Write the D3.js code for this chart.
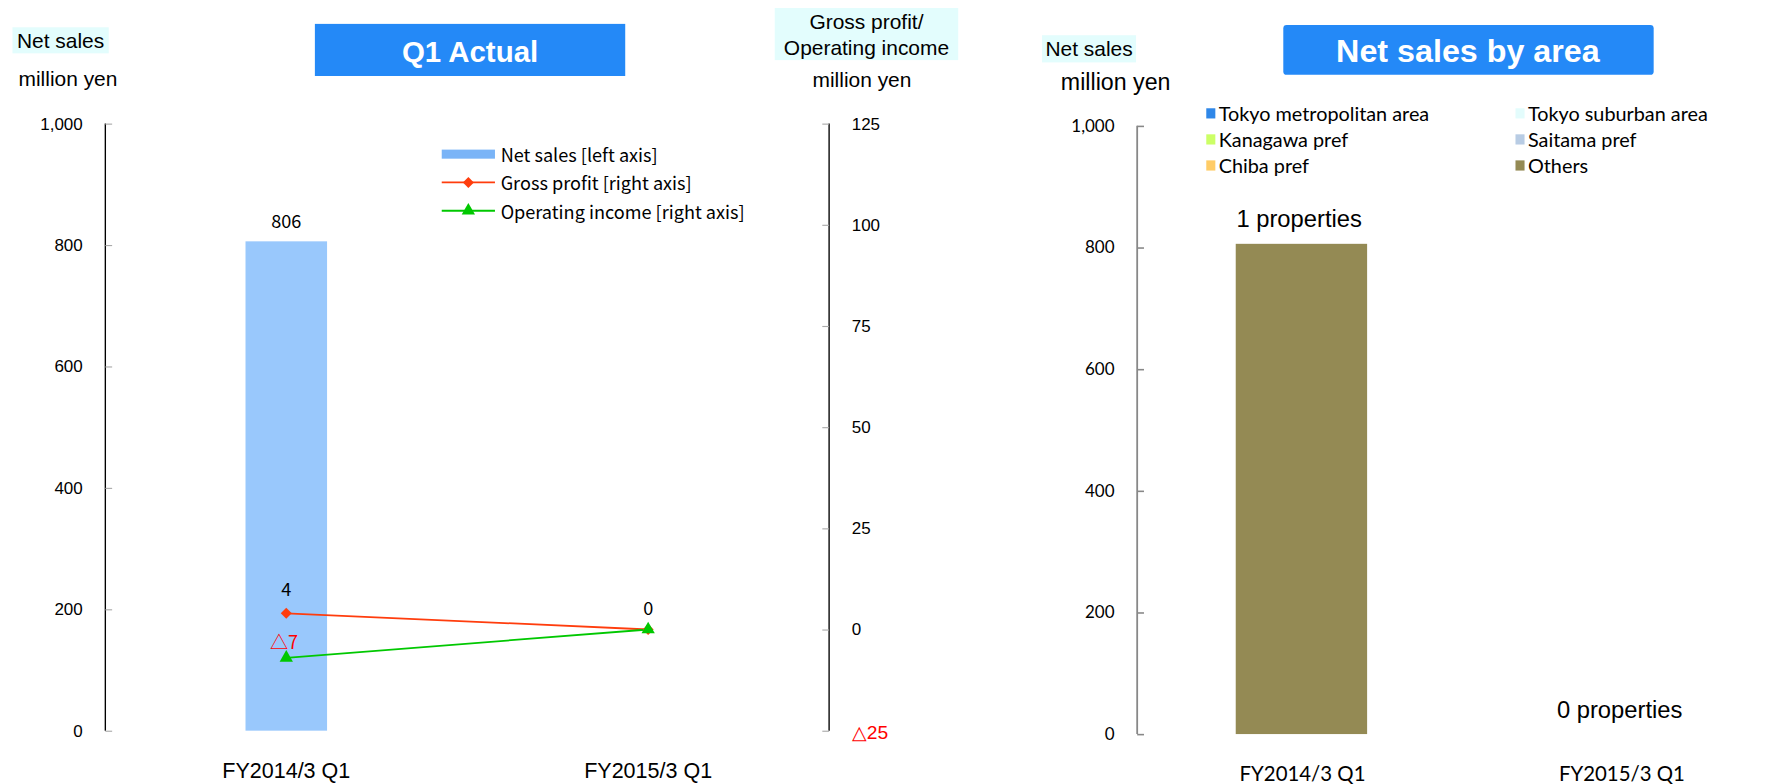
<!DOCTYPE html>
<html>
<head>
<meta charset="utf-8">
<script src="https://cdn.jsdelivr.net/npm/d3@7"></script>
<style>
  body { margin: 0; background: #fff; }
  svg { display: block; }
</style>
</head>
<body>
<div id="chart"></div>
<script>
// ---- data ----
const categories = ["FY2014/3 Q1", "FY2015/3 Q1"]
const netSales = [806, 0]
const grossProfit = [4, 0]
const operatingIncome = [-7, 0]
const leftTicks = [0, 200, 400, 600, 800, 1000]
const rightTicks = [-25, 0, 25, 50, 75, 100, 125]

const areas = ["Tokyo metropolitan area", "Tokyo suburban area", "Kanagawa pref", "Saitama pref", "Chiba pref", "Others"]
const areaColors = ["#2f87e8", "#e3fcfc", "#ccff66", "#b8cce4", "#ffcc66", "#948a54"]
const areaSales = [
  { category: "FY2014/3 Q1", "Tokyo metropolitan area": 0, "Tokyo suburban area": 0, "Kanagawa pref": 0, "Saitama pref": 0, "Chiba pref": 0, "Others": 806 },
  { category: "FY2015/3 Q1", "Tokyo metropolitan area": 0, "Tokyo suburban area": 0, "Kanagawa pref": 0, "Saitama pref": 0, "Chiba pref": 0, "Others": 0 }
]
const properties = [1, 0]

const W = 1568, H = 692
const ARIAL = "'Liberation Sans', Arial, sans-serif"
const GOTHIC = "'Noto Sans CJK JP', sans-serif"
const CALIBRI = "Lato, 'Open Sans', sans-serif"

const fmt = d3.format(",")
const svg = d3.select("#chart").append("svg")
  .attr("width", 1776).attr("height", 784)
  .attr("viewBox", `0 0 ${W} ${H}`)

// ================= left chart: Q1 Actual =================
const L = { left: 93, right: 732, top: 109, bottom: 645 }
const g1 = svg.append("g")

const x1 = d3.scaleBand().domain(categories).range([L.left, L.right]).padding(0)
const y1 = d3.scaleLinear().domain([0, 1000]).range([L.bottom, L.top])
const y2 = d3.scaleLinear().domain([-25, 125]).range([L.bottom, L.top])

// headers
const hdr = (g, x, y, w, h, lines, ly, size) => {
  g.append("rect").attr("x", x).attr("y", y).attr("width", w).attr("height", h).attr("fill", "#e3fdfd")
  lines.forEach((t, i) => g.append("text")
    .attr("x", x + w / 2).attr("y", ly[i]).attr("text-anchor", "middle")
    .attr("dominant-baseline", "central")
    .attr("font-family", ARIAL).attr("font-size", size).attr("fill", "#000").text(t))
}
const unit = (g, x, y, size) => g.append("text").attr("x", x).attr("y", y).attr("text-anchor", "middle")
  .attr("dominant-baseline", "central").attr("font-family", ARIAL).attr("font-size", size).text("million yen")

hdr(g1, 11, 24, 85, 23, ["Net sales"], [36], 18.5)
unit(g1, 60, 69, 18.5)
hdr(g1, 684, 7, 162, 46, ["Gross profit/", "Operating income"], [19, 42], 18.5)
unit(g1, 761, 70, 18.5)

// title box
g1.append("rect").attr("x", 278).attr("y", 21).attr("width", 274).attr("height", 46).attr("fill", "#2489f7")
g1.append("text").attr("x", 415).attr("y", 45).attr("text-anchor", "middle").attr("dominant-baseline", "central")
  .attr("font-family", ARIAL).attr("font-weight", "bold").attr("font-size", 26).attr("fill", "#fff").text("Q1 Actual")

// bars
const barW1 = 72
g1.selectAll("rect.bar").data(netSales).enter().append("rect")
  .attr("class", "bar")
  .attr("x", (d, i) => x1(categories[i]) + x1.bandwidth() / 2 - barW1 / 2)
  .attr("y", d => y1(d))
  .attr("width", barW1)
  .attr("height", d => y1(0) - y1(d))
  .attr("fill", "#99c8fc")
g1.append("text").attr("x", x1(categories[0]) + x1.bandwidth() / 2).attr("y", y1(netSales[0]) - 19)
  .attr("text-anchor", "middle").attr("dominant-baseline", "central")
  .attr("font-family", GOTHIC).attr("font-size", 16).text(fmt(netSales[0]))

// axes
const leftAxis = d3.axisLeft(y1).tickValues(leftTicks).tickSize(-6).tickPadding(20).tickFormat(fmt)
const ax1 = g1.append("g").attr("transform", `translate(${L.left},0)`).call(leftAxis)
ax1.select(".domain").attr("stroke", "#000").attr("stroke-width", 1.2).attr("d", `M0,${L.top}V${L.bottom}`)
ax1.selectAll(".tick line").attr("stroke", "#aaa")
ax1.selectAll(".tick text").attr("font-family", ARIAL).attr("font-size", 15).attr("fill", "#000")

const rightAxis = d3.axisRight(y2).tickValues(rightTicks).tickSize(-6).tickPadding(20)
  .tickFormat(d => d < 0 ? "△" + Math.abs(d) : d)
const ax2 = g1.append("g").attr("transform", `translate(${L.right},0)`).call(rightAxis)
ax2.select(".domain").attr("stroke", "#000").attr("stroke-width", 1.2).attr("d", `M0,${L.top}V${L.bottom}`)
ax2.selectAll(".tick line").attr("stroke", "#aaa")
ax2.selectAll(".tick text").attr("font-family", ARIAL).attr("font-size", 15)
  .attr("fill", d => d < 0 ? "#ff0000" : "#000")
  .filter(d => d < 0).attr("font-size", 17).attr("dy", "0.4em")

// category labels
categories.forEach(c => g1.append("text")
  .attr("x", x1(c) + x1.bandwidth() / 2).attr("y", 681).attr("text-anchor", "middle")
  .attr("dominant-baseline", "central").attr("font-family", ARIAL).attr("font-size", 19).text(c))

// lines
const cx = (d, i) => x1(categories[i]) + x1.bandwidth() / 2
const line = d3.line().x(cx).y(d => y2(d))
g1.append("path").datum(grossProfit).attr("d", line).attr("fill", "none").attr("stroke", "#ff3d0d").attr("stroke-width", 1.6)
g1.append("path").datum(operatingIncome).attr("d", line).attr("fill", "none").attr("stroke", "#00c800").attr("stroke-width", 1.6)
const diamond = d3.symbol().type(d3.symbolDiamond2).size(60)
const tri = d3.symbol().type(d3.symbolTriangle).size(60)
g1.selectAll("path.gp").data(grossProfit).enter().append("path").attr("class", "gp")
  .attr("d", diamond).attr("transform", (d, i) => `translate(${cx(d, i)},${y2(d)})`).attr("fill", "#ff3d0d")
g1.selectAll("path.oi").data(operatingIncome).enter().append("path").attr("class", "oi")
  .attr("d", tri).attr("transform", (d, i) => `translate(${cx(d, i)},${y2(d)})`).attr("fill", "#00c800")

// point labels
const ptLabel = (x, y, t, color) => g1.append("text").attr("x", x).attr("y", y)
  .attr("text-anchor", "middle").attr("dominant-baseline", "central")
  .attr("font-family", GOTHIC).attr("font-size", 16).attr("fill", color).text(t)
ptLabel(cx(grossProfit[0], 0), y2(grossProfit[0]) - 22, grossProfit[0], "#000")
ptLabel(cx(operatingIncome[0], 0) - 2, y2(operatingIncome[0]) - 15, "△" + Math.abs(operatingIncome[0]), "#ff0000")
ptLabel(cx(grossProfit[1], 1), y2(grossProfit[1]) - 20, grossProfit[1], "#000")

// legend
const lg = g1.append("g").attr("transform", "translate(390,136)")
lg.append("rect").attr("x", 0).attr("y", -4).attr("width", 47).attr("height", 8).attr("fill", "#7ab4f7")
lg.append("line").attr("x1", 0).attr("x2", 47).attr("y1", 25).attr("y2", 25).attr("stroke", "#ff3d0d").attr("stroke-width", 1.6)
lg.append("path").attr("d", diamond).attr("transform", "translate(23.5,25)").attr("fill", "#ff3d0d")
lg.append("line").attr("x1", 0).attr("x2", 47).attr("y1", 50).attr("y2", 50).attr("stroke", "#00c800").attr("stroke-width", 1.6)
lg.append("path").attr("d", tri).attr("transform", "translate(23.5,50)").attr("fill", "#00c800")
const legendText = ["Net sales [left axis]", "Gross profit [right axis]", "Operating income [right axis]"]
legendText.forEach((t, i) => lg.append("text").attr("x", 52).attr("y", [0, 25, 50][i])
  .attr("dominant-baseline", "central").attr("font-family", GOTHIC).attr("font-size", 16).text(t))

// ================= right chart: Net sales by area =================
const R = { left: 1004, right: 1568, top: 111, bottom: 648 }
const g2 = svg.append("g")

hdr(g2, 920, 31, 83, 24, ["Net sales"], [43], 18.5)
unit(g2, 985, 72, 20.5)

g2.append("rect").attr("x", 1133).attr("y", 22).attr("width", 327).attr("height", 44).attr("rx", 3).attr("fill", "#2489f7")
g2.append("text").attr("x", 1296).attr("y", 45).attr("text-anchor", "middle").attr("dominant-baseline", "central")
  .attr("font-family", ARIAL).attr("font-weight", "bold").attr("font-size", 28.5).attr("fill", "#fff").text("Net sales by area")

const x3 = d3.scaleBand().domain(categories).range([R.left, R.right]).padding(0)
const y3 = d3.scaleLinear().domain([0, 1000]).range([R.bottom, R.top])
const stack = d3.stack().keys(areas)(areaSales)
const barW3 = 116

g2.selectAll("g.layer").data(stack).enter().append("g").attr("class", "layer")
  .attr("fill", (d, i) => areaColors[i])
  .selectAll("rect").data(d => d).enter().append("rect")
  .attr("x", d => x3(d.data.category) + x3.bandwidth() / 2 - barW3 / 2 + 4)
  .attr("y", d => y3(d[1]))
  .attr("width", barW3)
  .attr("height", d => y3(d[0]) - y3(d[1]))

const ax3 = g2.append("g").attr("transform", `translate(${R.left},0)`)
  .call(d3.axisLeft(y3).tickValues(leftTicks).tickSize(-6).tickPadding(20).tickFormat(fmt))
ax3.select(".domain").attr("stroke", "#888").attr("stroke-width", 1.6).attr("d", `M0,${R.top}V${R.bottom}`)
ax3.selectAll(".tick line").attr("stroke", "#888").attr("stroke-width", 1.4)
ax3.selectAll(".tick text").attr("font-family", CALIBRI).attr("font-size", 15).attr("fill", "#000")

// category labels (no horizontal axis line drawn in the original)
categories.forEach(c => g2.append("text")
  .attr("x", x3(c) + x3.bandwidth() / 2 + 5).attr("y", 682).attr("text-anchor", "middle")
  .attr("dominant-baseline", "central").attr("font-family", CALIBRI).attr("font-size", 18).text(c))

// property count labels
categories.forEach((c, i) => {
  const total = areas.reduce((s, k) => s + areaSales[i][k], 0)
  g2.append("text")
    .attr("x", x3(c) + x3.bandwidth() / 2 + (i === 0 ? 2 : 3))
    .attr("y", y3(total) - 22)
    .attr("text-anchor", "middle").attr("dominant-baseline", "central")
    .attr("font-family", ARIAL).attr("font-size", 21).text(`${properties[i]} properties`)
})

// legend
const lg2 = g2.append("g").attr("transform", "translate(1069,100)")
areas.forEach((a, i) => {
  const col = i % 2, row = Math.floor(i / 2)
  const gx = col * 273, gy = row * 23
  lg2.append("rect").attr("x", gx - 4).attr("y", gy - 4.5).attr("width", 8).attr("height", 9).attr("fill", areaColors[i])
  lg2.append("text").attr("x", gx + 7).attr("y", gy).attr("dominant-baseline", "central")
    .attr("font-family", CALIBRI).attr("font-size", 17.5).text(a)
})
</script>
</body>
</html>
